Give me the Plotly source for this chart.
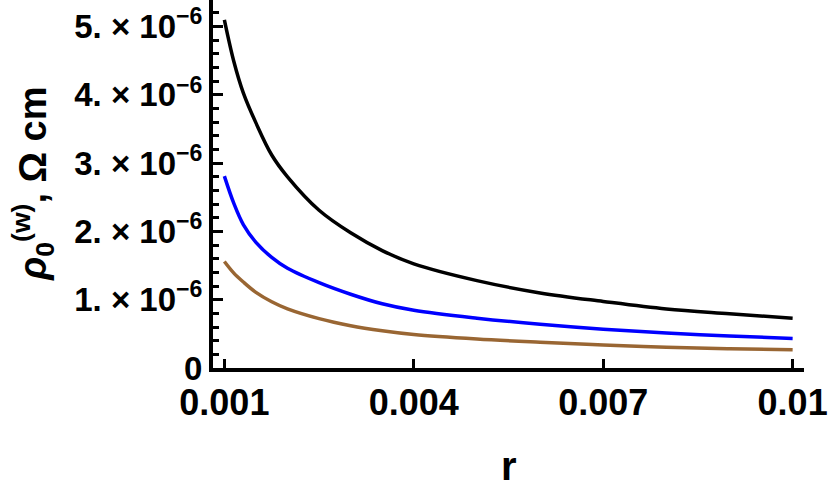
import plotly.graph_objects as go

# data (values in units of 1e-6 Ohm cm)
r_vals = [0.001, 0.00115, 0.0013, 0.0015, 0.00175, 0.002, 0.0025, 0.003, 0.0035,
          0.004, 0.005, 0.006, 0.007, 0.008, 0.009, 0.01]
rho_black = [5.10, 4.49, 4.03, 3.59, 3.12, 2.80, 2.31, 1.98, 1.72,
             1.525, 1.28, 1.10, 0.975, 0.865, 0.795, 0.73]
rho_blue = [2.81, 2.41, 2.10, 1.84, 1.62, 1.46, 1.25, 1.08, 0.94,
            0.845, 0.73, 0.64, 0.568, 0.513, 0.469, 0.432]
rho_brown = [1.56, 1.39, 1.26, 1.108, 0.97, 0.866, 0.723, 0.619, 0.545,
             0.49, 0.425, 0.378, 0.337, 0.305, 0.283, 0.266]
scale = 1e-6

x_range = [0.00082, 0.01018]
y_range = [0, 5.39e-6]
x_ticks = [0.001, 0.004, 0.007, 0.01]
x_ticktext = ["0.001", "0.004", "0.007", "0.01"]
y_ticks = [0, 1e-6, 2e-6, 3e-6, 4e-6, 5e-6]
y_ticktext = ["0", "1. × 10<sup>−6</sup>", "2. × 10<sup>−6</sup>", "3. × 10<sup>−6</sup>",
              "4. × 10<sup>−6</sup>", "5. × 10<sup>−6</sup>"]

FONT = "Liberation Sans, Arial, sans-serif"

fig = go.Figure()
for vals, col in [(rho_black, "black"), (rho_blue, "#0000ff"), (rho_brown, "#996633")]:
    fig.add_trace(go.Scatter(x=r_vals, y=[v * scale for v in vals], mode="lines",
                             line=dict(color=col, width=3.5, shape="spline", smoothing=1.0),
                             showlegend=False, hoverinfo="skip"))

fig.update_xaxes(range=x_range, showgrid=False, zeroline=False,
                 showline=True, linecolor="black", linewidth=4, automargin=False,
                 tickmode="array", tickvals=x_ticks, ticktext=x_ticktext,
                 ticks="inside", ticklen=9, tickwidth=3, tickcolor="black",
                 tickfont=dict(family=FONT, size=36, color="black", weight="bold"))
fig.update_yaxes(range=y_range, showgrid=False, zeroline=False,
                 showline=True, linecolor="black", linewidth=4, automargin=False,
                 tickmode="array", tickvals=y_ticks, ticktext=y_ticktext,
                 ticks="inside", ticklen=10, tickwidth=3, tickcolor="black",
                 tickfont=dict(family=FONT, size=33, color="black", weight="bold"),
                 minor=dict(ticks="inside", dtick=2e-7, ticklen=6, tickwidth=2.5,
                            tickcolor="black", showgrid=False))

fig.add_annotation(text="<b><i>ρ</i><sub>0</sub><sup>(w)</sup>, Ω cm</b>", textangle=-90,
                   xref="paper", yref="paper", x=-0.305, y=0.5,
                   xanchor="center", yanchor="middle", showarrow=False,
                   font=dict(family=FONT, size=38, color="black"))
fig.add_annotation(text="<b>r</b>", xref="paper", yref="paper", x=0.5, y=-0.265,
                   xanchor="center", yanchor="middle", showarrow=False,
                   font=dict(family=FONT, size=40, color="black"))

fig.update_layout(width=830, height=492, plot_bgcolor="white", paper_bgcolor="white",
                  margin=dict(l=213, r=26, t=0, b=124),
                  font=dict(family=FONT, color="black"))
fig.write_html("out.html", config={"displayModeBar": False},
               post_script="document.body.style.margin='0';")
